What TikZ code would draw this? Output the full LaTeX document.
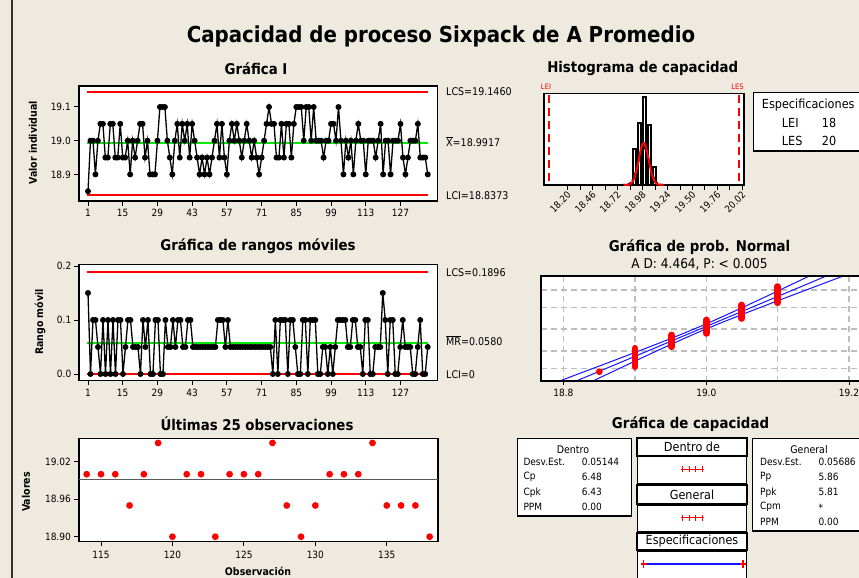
\documentclass[tikz,border=0pt]{standalone}
\usepackage{fontspec}
\setmainfont{DejaVu Sans}[FakeStretch=0.9]
\definecolor{bg}{RGB}{238,234,224}
\definecolor{gridgray}{RGB}{190,190,190}
\definecolor{mtred}{RGB}{255,0,0}
\definecolor{mtgreen}{RGB}{0,235,0}
\definecolor{mtblue}{RGB}{20,20,255}
\def\irest{19.00,19.00,18.90,19.00,19.05,19.05,18.95,18.95,19.05,%
19.05,18.95,18.95,19.05,18.95,18.95,19.00,18.90,19.00,18.95,%
19.00,19.05,19.05,18.95,19.00,18.90,18.90,18.90,19.00,19.10,%
19.10,19.10,19.00,18.95,18.90,19.00,19.05,18.95,19.05,19.00,%
19.05,18.95,19.05,19.00,18.95,18.90,18.95,18.90,18.95,18.90,%
18.95,19.00,19.05,18.95,19.05,18.95,18.90,19.00,19.05,19.00,%
19.05,19.00,18.95,19.00,19.05,19.00,18.95,19.00,18.95,18.90,%
18.95,19.00,19.05,19.10,19.05,19.05,18.95,18.95,19.05,18.95,%
19.05,19.05,18.95,19.05,19.10,19.10,19.10,19.00,19.10,19.10,%
19.00,19.10,19.00,19.00,19.00,18.95,19.00,19.00,19.05,19.05,%
19.00,19.10,19.00,18.90,19.00,18.95,19.00,18.90,19.00,19.05,%
19.00,19.00,18.90,19.00,19.00,19.00,18.95,19.00,19.05,18.90,%
19.00,19.00,18.90,19.00,19.00,19.00,19.05,18.95,18.90,18.95,%
19.00,19.00,19.00,19.05,18.95,18.95,18.95,18.90}
\def\lastdata{19.00,19.00,19.00,18.95,19.00,19.05,18.90,19.00,19.00,18.90,19.00,19.00,19.00,19.05,18.95,18.90,18.95,19.00,19.00,19.00,19.05,18.95,18.95,18.95,18.90}
\begin{document}
\begin{tikzpicture}[x=1pt,y=-1pt,
  pframe/.style={draw=black,line width=1.4pt,fill=white},
  tickmk/.style={draw=black,line width=1pt},
  tlbl/.style={font=\fontsize{10}{12}\selectfont,inner sep=0pt},
  subttl/.style={font=\fontsize{14.8}{17}\selectfont\bfseries,inner sep=0pt},
  axttl/.style={font=\fontsize{10.5}{12}\selectfont\bfseries,inner sep=0pt,rotate=90},
  limlbl/.style={font=\fontsize{10.6}{12}\selectfont,inner sep=0pt,anchor=west},
  limline/.style={draw=mtred,line width=1.8pt},
  cenline/.style={draw=mtgreen,line width=1.8pt},
  dataline/.style={draw=black,line width=1.3pt},
  blackdot/.style={fill=black},
  reddot/.style={fill=mtred},
  bigtxt/.style={font=\fontsize{12.5}{14}\selectfont,inner sep=0pt},
  rowtxt/.style={font=\fontsize{10}{12}\selectfont,inner sep=0pt,anchor=west},
  boxttl/.style={font=\fontsize{10.5}{12}\selectfont,inner sep=0pt},
  infobox/.style={draw=black,line width=1.4pt,fill=white},
  hdrbox/.style={draw=black,line width=1.7pt,fill=white,inner sep=0pt,font=\fontsize{12.5}{14}\selectfont},
  contbox/.style={draw=black,line width=1.4pt,fill=white},
  gridln/.style={draw=gridgray,line width=1.3pt,dash pattern=on 6pt off 4pt},
  band/.style={draw=mtblue,line width=1pt},
  stack/.style={draw=mtred,line width=6.6pt,line cap=round},
  speclim/.style={draw=mtred,line width=1.7pt,dash pattern=on 8pt off 5pt},
  histbar/.style={draw=black,line width=1.9pt,fill=white},
]
\useasboundingbox (0,0) rectangle (859,578);
\fill[bg] (0,0) rectangle (859,578);
\draw[black!80,line width=1.6pt] (12,0) -- (12,578);

\node[font=\fontsize{22}{26}\selectfont\bfseries,inner sep=0pt] (title) at (441,36) {Capacidad de proceso Sixpack de A Promedio};

% ---------------- I chart
\node[subttl] (t1) at (256,69) {Gráfica I};
\draw[pframe] (79,86) rectangle (437.5,201);
\foreach \v/\y [count=\k] in {19.1/106.7,19.0/140.7,18.9/174.4}{
  \draw[tickmk] (74,\y) -- (79,\y);
  \node[tlbl,anchor=east] (iy\k) at (71,\y) {\v};}
\foreach \t [count=\k] in {1,15,...,127}{
  \draw[tickmk] ({88+(\t-1)*2.48},201) -- ({88+(\t-1)*2.48},205.5);
  \node[tlbl] (ix\k) at ({88+(\t-1)*2.48},213) {\t};}
\draw[limline] (87,91.8) -- (428,91.8);
\draw[cenline] (87,143.2) -- (428,143.2);
\draw[limline] (87,195.2) -- (428,195.2);
\draw[dataline] (88,{140.7+0.15*337}) \foreach \v [count=\i] in \irest { -- ({88+\i*2.48},{140.7-(\v-19)*337}) };
\fill[blackdot] (88,{140.7+0.15*337}) circle[radius=3pt];
\foreach \v [count=\i] in \irest {\fill[blackdot] ({88+\i*2.48},{140.7-(\v-19)*337}) circle[radius=3pt];}
\node[limlbl] (lcs1) at (446,92) {LCS=19.1460};
\node[limlbl] (cl1) at (446,142) {$\overline{\mbox{X}}$=18.9917};
\node[limlbl] (lci1) at (446,196) {LCI=18.8373};
\node[axttl] (ya1) at (33,143) {Valor individual};

% ---------------- MR chart
\node[subttl] (t2) at (258,246) {Gráfica de rangos móviles};
\draw[pframe] (79,264.3) rectangle (437.5,380.7);
\foreach \v/\y [count=\k] in {0.2/266,0.1/320,0.0/374}{
  \draw[tickmk] (74,\y) -- (79,\y);
  \node[tlbl,anchor=east] (my\k) at (71.5,\y) {\v};}
\foreach \t [count=\k] in {1,15,...,127}{
  \draw[tickmk] ({88+(\t-1)*2.48},380.7) -- ({88+(\t-1)*2.48},385);
  \node[tlbl] (mx\k) at ({88+(\t-1)*2.48},393) {\t};}
\draw[limline] (87,271.7) -- (428,271.7);
\draw[cenline] (87,342.7) -- (428,342.7);
\draw[limline] (87,373.8) -- (428,373.8);
\draw[dataline] (88,{374-0.15*540}) \foreach \v [count=\i, remember=\v as \lv (initially 18.85)] in \irest { -- ({88+(\i-1)*2.498},{374-abs(\v-\lv)*540}) };
\foreach \v [count=\i, remember=\v as \lv (initially 18.85)] in \irest {\fill[blackdot] ({88+(\i-1)*2.498},{374-abs(\v-\lv)*540}) circle[radius=3pt];}
\node[limlbl] (lcs2) at (446,273) {LCS=0.1896};
\node[limlbl] (cl2) at (446,341) {$\overline{\mbox{MR}}$=0.0580};
\node[limlbl] (lci2) at (446,374.5) {LCI=0};
\node[axttl] (ya2) at (40,322) {Rango móvil};

% ---------------- Last 25
\node[subttl] (t3) at (257,424) {Últimas 25 observaciones};
\draw[pframe] (79,438.3) rectangle (438,541.3);
\foreach \v/\y [count=\k] in {19.02/461.7,18.96/499.3,18.90/536.7}{
  \draw[tickmk] (74,\y) -- (79,\y);
  \node[tlbl,anchor=east] (ly\k) at (71,\y) {\v};}
\foreach \t [count=\k] in {115,120,...,135}{
  \draw[tickmk] ({101+(\t-115)*14.29},541.3) -- ({101+(\t-115)*14.29},545.5);
  \node[tlbl] (lx\k) at ({101+(\t-115)*14.29},555) {\t};}
\draw[black!65,line width=1.5pt] (79,479.6) -- (438,479.6);
\foreach \v [count=\i] in \lastdata {\fill[reddot] ({86.7+(\i-1)*14.29},{536.7-(\v-18.90)*625}) circle[radius=3.4pt];}
\node[axttl] (ya3) at (26,492) {Valores};
\node[font=\fontsize{10.5}{12}\selectfont\bfseries,inner sep=0pt] (xa3) at (258,571) {Observación};

% ---------------- Histogram
\node[subttl] (t4) at (642.7,68.3) {Histograma de capacidad};
\draw[pframe] (544,93.3) rectangle (744,185);
\foreach \k in {0,...,14}{
  \draw[tickmk] ({567.7+\k*12.48},185) -- ({567.7+\k*12.48},189.5);}
\foreach \lab [count=\k] in {18.20,18.46,18.72,18.98,19.24,19.50,19.76,20.02}{
  \node[font=\fontsize{9.6}{11}\selectfont,inner sep=0pt,rotate=45,anchor=east] (hx\k) at ({548.5+(\lab-18)*96+1.5},193) {\lab};}
\foreach \bx/\bh in {634.9/36,639.7/62,644.5/88,649.3/60,654.1/18}{
  \draw[histbar] ({\bx-1.5},185) rectangle ({\bx+1.5},{185-\bh});}
\draw[black,line width=2pt,dash pattern=on 4pt off 2pt] plot[domain=-22:22,samples=60,variable=\u] ({643.7+\u},{185-38*exp(-(\u*\u)/(2*5.46*5.46))});
\draw[mtred,line width=2pt] plot[domain=-20:20,samples=60,variable=\u] ({643.7+\u},{185-42*exp(-(\u*\u)/(2*4.94*4.94))});
\draw[speclim] (549,95) -- (549,184);
\draw[speclim] (739,95) -- (739,184);
\node[font=\fontsize{7.5}{9}\selectfont,text=mtred,inner sep=0pt] (lei) at (546,87) {LEI};
\node[font=\fontsize{7.5}{9}\selectfont,text=mtred,inner sep=0pt] (les) at (737.5,87) {LES};
\draw[infobox] (753.3,92.3) rectangle (880,151);
\node[bigtxt,anchor=west] (spt) at (761.7,105) {Especificaciones};
\node[bigtxt,anchor=west] (sp1) at (781.7,123.3) {LEI};
\node[bigtxt,anchor=west] (sp1v) at (821.7,123.3) {18};
\node[bigtxt,anchor=west] (sp2) at (781.7,141) {LES};
\node[bigtxt,anchor=west] (sp2v) at (821.7,141) {20};

% ---------------- Normal probability plot
\node[subttl] (t5) at (699.5,246.7) {Gráfica de prob. Normal};
\node[font=\fontsize{13.5}{15}\selectfont,inner sep=0pt] (ad) at (699.5,264.3) {A D: 4.464, P: < 0.005};
\fill[white] (541,276) rectangle (880,381);
\begin{scope}
\clip (541,276) rectangle (880,381);
\foreach \gx in {563.4,635,706.3,777.6,849}{\draw[gridln] (\gx,276) -- (\gx,381);}
\foreach \gy in {290,307.3,329,351,368.3}{\draw[gridln] (541,\gy) -- (880,\gy);}
\draw[band] plot[domain=-3.4:3.4,samples=60,variable=\z] ({700.1+40.5*\z},{329-17*\z});
\draw[band] plot[domain=-3.4:3.4,samples=60,variable=\z] ({700.1+40.5*\z-sqrt(36+26*\z*\z)},{329-17*\z});
\draw[band] plot[domain=-3.4:3.4,samples=60,variable=\z] ({700.1+40.5*\z+sqrt(36+26*\z*\z)},{329-17*\z});
\end{scope}
\fill[reddot] (599.3,371.7) circle[radius=3.4pt];
\foreach \sx/\ya/\yb in {635/348.2/366.8,671.7/334.9/346.8,706.3/319.9/333.5,741.7/304.9/318.5,777.3/286.5/302.8}{
  \draw[stack] (\sx,\ya) -- (\sx,\yb);}
\draw[draw=black,line width=1.4pt] (880,276) -- (541,276) -- (541,381) -- (880,381);
\foreach \v/\x [count=\k] in {18.8/563.4,19.0/706.3,19.2/849}{
  \draw[tickmk] (\x,381) -- (\x,385);
  \node[tlbl] (nx\k) at (\x,393) {\v};}

% ---------------- Capability plot
\node[subttl] (t6) at (690.5,424) {Gráfica de capacidad};
\draw[infobox] (517.3,438.3) rectangle (631.7,516);
\node[boxttl] (dt) at (573,449.3) {Dentro};
\foreach \a/\b/\y [count=\k] in {Desv.Est./0.05144/462.3,Cp/6.48/477.3,Cpk/6.43/492.3,PPM/0.00/507.3}{
  \node[rowtxt] (dl\k) at (523.3,\y) {\a};
  \node[rowtxt] (dv\k) at (581.7,\y) {\b};}
\draw[infobox] (752.7,438.3) rectangle (880,531);
\node[boxttl] (gt) at (809,449.3) {General};
\foreach \a/\b/\y [count=\k] in {Desv.Est./0.05686/462.3,Pp/5.86/477.3,Ppk/5.81/492.3,Cpm/*/507.3,PPM/0.00/522.3}{
  \node[rowtxt] (gl\k) at (760,\y) {\a};
  \node[rowtxt] (gv\k) at (818.3,\y) {\b};}
\node[hdrbox,minimum width=109.4pt,minimum height=17.4pt] (h1) at (692,447) {Dentro de};
\node[contbox,minimum width=109.4pt,minimum height=26.6pt] (c1) at (692,470) {};
\node[hdrbox,minimum width=109.4pt,minimum height=19pt] (h2) at (692,494.5) {General};
\node[contbox,minimum width=109.4pt,minimum height=26.7pt] (c2) at (692,518.3) {};
\node[hdrbox,minimum width=109.4pt,minimum height=17.3pt] (h3) at (692,541.3) {Especificaciones};
\node[contbox,minimum width=109.4pt,minimum height=40pt] (c3) at (692,571) {};
\foreach \sy in {469.3,517.7}{
  \draw[mtred,line width=1.2pt] (681,\sy) -- (703.5,\sy);
  \foreach \tx in {682.5,689,695.5,702}{\draw[mtred,line width=1pt] (\tx,{\sy-3}) -- (\tx,{\sy+3});}}
\draw[mtblue,line width=2pt] (643.5,564) -- (743,564);
\foreach \tx in {643.5,743}{
  \draw[mtred,line width=1.2pt] (\tx,560) -- (\tx,568);
  \draw[mtred,line width=1.2pt] ({\tx-3},564) -- ({\tx+3},564);}
\end{tikzpicture}
\end{document}
